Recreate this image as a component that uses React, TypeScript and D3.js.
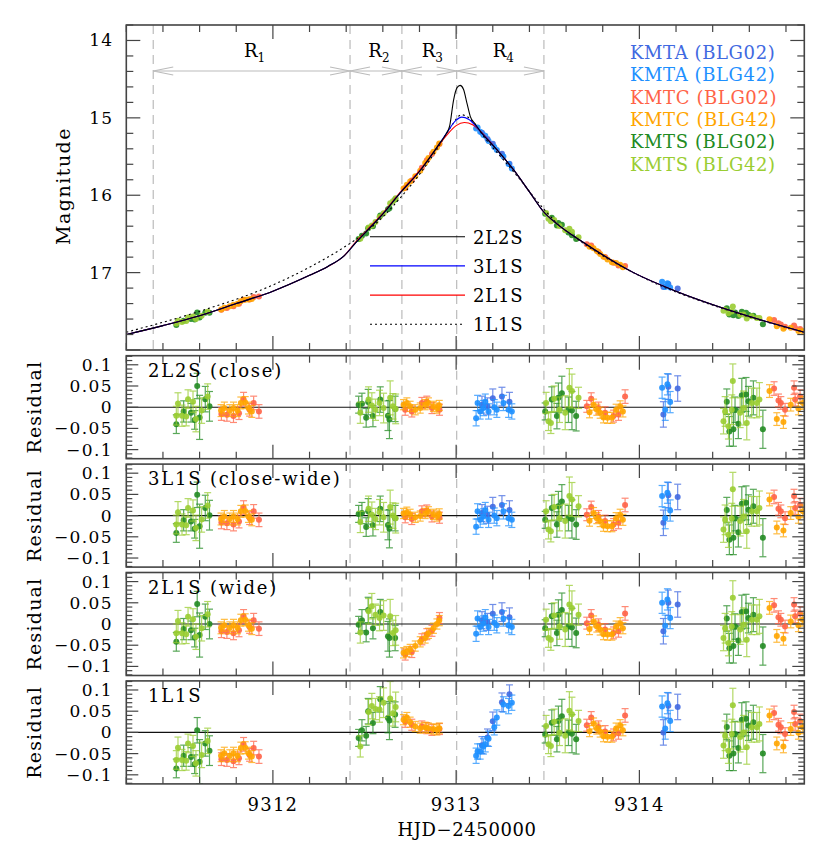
import * as d3 from "d3";

const W = 830;
const H = 858;
const LEFT = 126.3;
const RIGHT = 804.3;
const MAIN_TOP = 25;
const MAIN_BOTTOM = 350;
const RES_TOP0 = 355.7;
const RES_STEP = 108.4;
const RES_H = 103;
const FONT = "'DejaVu Serif', serif";

// region boundaries (HJD-2450000) and labels
const regionEdges = [9311.347, 9312.421, 9312.704, 9313.003, 9313.479];
const regionNames = ["1", "2", "3", "4"];

// model light curves: time, magnitude
const t3L1S = [9311.2, 9311.4, 9311.6, 9311.8, 9312.0, 9312.2, 9312.3, 9312.39, 9312.45, 9312.513, 9312.586, 9312.695, 9312.804, 9312.913, 9312.95, 9313.0, 9313.03, 9313.07, 9313.131, 9313.222, 9313.313, 9313.404, 9313.476, 9313.55, 9313.695, 9313.968, 9314.2, 9314.51, 9314.9];
const m3L1S = [17.8, 17.685, 17.557, 17.4, 17.24, 17.035, 16.92, 16.78, 16.62, 16.46, 16.28, 15.97, 15.68, 15.32, 15.19, 15.03, 14.99, 15.02, 15.17, 15.41, 15.67, 15.97, 16.21, 16.37, 16.61, 17.0, 17.24, 17.5, 17.77];

const t2L2S = [9311.2, 9311.4, 9311.6, 9311.8, 9312.0, 9312.2, 9312.3, 9312.39, 9312.45, 9312.513, 9312.586, 9312.695, 9312.804, 9312.913, 9312.945, 9312.965, 9312.986, 9313.005, 9313.022, 9313.04, 9313.06, 9313.077, 9313.104, 9313.131, 9313.222, 9313.313, 9313.404, 9313.476, 9313.55, 9313.695, 9313.968, 9314.2, 9314.51, 9314.9];
const m2L2S = [17.8, 17.685, 17.557, 17.4, 17.24, 17.035, 16.92, 16.78, 16.62, 16.46, 16.28, 15.97, 15.68, 15.32, 15.21, 15.1, 14.77, 14.61, 14.58, 14.63, 14.82, 14.98, 15.08, 15.17, 15.41, 15.67, 15.97, 16.21, 16.37, 16.61, 17.0, 17.24, 17.5, 17.77];

const t2L1S = [9311.2, 9311.4, 9311.6, 9311.8, 9312.0, 9312.2, 9312.3, 9312.39, 9312.45, 9312.513, 9312.586, 9312.695, 9312.804, 9312.913, 9312.95, 9313.0, 9313.045, 9313.09, 9313.131, 9313.222, 9313.313, 9313.404, 9313.476, 9313.55, 9313.695, 9313.968, 9314.2, 9314.51, 9314.9];
const m2L1S = [17.8, 17.685, 17.557, 17.4, 17.24, 17.035, 16.92, 16.78, 16.61, 16.45, 16.27, 15.96, 15.67, 15.33, 15.22, 15.1, 15.06, 15.09, 15.17, 15.41, 15.67, 15.97, 16.21, 16.37, 16.61, 17.0, 17.24, 17.5, 17.77];

const t1L1S = [9311.2, 9311.6, 9312.0, 9312.2, 9312.39, 9312.5, 9312.6, 9312.7, 9312.8, 9312.9, 9312.97, 9313.03, 9313.08, 9313.15, 9313.25, 9313.35, 9313.45, 9313.55, 9313.7, 9314.0, 9314.5, 9314.9];
const m1L1S = [17.77, 17.5, 17.16, 16.93, 16.67, 16.49, 16.28, 16.02, 15.73, 15.39, 15.12, 14.96, 15.02, 15.24, 15.52, 15.8, 16.1, 16.36, 16.63, 17.04, 17.5, 17.77];

// data rows: [t, mag, res 2L2S, res 3L1S, res 2L1S, res 1L1S, error]
type Row = number[];

const kmtaBLG02: Row[] = [
  [9313.141, 15.194, 0.006, 0.006, 0.009, -0.03, 0.02],
  [9313.171, 15.273, 0.002, 0.002, 0.005, -0.012, 0.02],
  [9313.2, 15.334, 0.021, 0.021, 0.024, 0.026, 0.022],
  [9313.25, 15.465, 0.025, 0.025, 0.028, 0.071, 0.022],
  [9313.291, 15.592, 0.013, 0.013, 0.016, 0.09, 0.022],
  [9314.131, 17.187, -0.017, -0.017, -0.017, 0.0, 0.03],
  [9314.158, 17.147, 0.048, 0.048, 0.05, 0.063, 0.03],
  [9314.209, 17.206, 0.044, 0.044, 0.046, 0.06, 0.03],
];

const kmtaBLG42: Row[] = [
  [9313.109, 15.136, -0.026, -0.026, -0.023, -0.055, 0.018],
  [9313.117, 15.125, 0.01, 0.01, 0.013, -0.045, 0.018],
  [9313.131, 15.18, -0.01, -0.01, -0.007, -0.045, 0.018],
  [9313.149, 15.222, -0.002, -0.002, 0.001, -0.033, 0.018],
  [9313.159, 15.232, 0.013, 0.013, 0.016, -0.028, 0.018],
  [9313.177, 15.3, -0.01, -0.01, -0.007, -0.015, 0.018],
  [9313.208, 15.375, 0.0, 0.0, 0.003, 0.012, 0.018],
  [9313.222, 15.416, -0.006, -0.006, -0.003, 0.035, 0.018],
  [9313.258, 15.5, 0.01, 0.01, 0.013, 0.066, 0.018],
  [9313.286, 15.596, -0.006, -0.006, -0.003, 0.062, 0.018],
  [9313.304, 15.655, -0.01, -0.01, -0.007, 0.07, 0.018],
  [9314.124, 17.119, 0.046, 0.046, 0.05, 0.061, 0.025],
  [9314.141, 17.186, -0.006, -0.006, -0.004, 0.009, 0.025],
  [9314.153, 17.136, 0.054, 0.054, 0.058, 0.069, 0.025],
  [9314.168, 17.193, 0.012, 0.012, 0.014, 0.027, 0.025],
];

const kmtcBLG02: Row[] = [
  [9311.719, 17.481, -0.016, -0.016, -0.017, -0.063, 0.015],
  [9311.749, 17.458, -0.018, -0.018, -0.019, -0.065, 0.015],
  [9311.785, 17.433, -0.021, -0.021, -0.022, -0.068, 0.015],
  [9311.815, 17.402, -0.014, -0.014, -0.015, -0.061, 0.015],
  [9311.84, 17.349, 0.019, 0.019, 0.018, -0.028, 0.016],
  [9311.873, 17.348, -0.006, -0.006, -0.007, -0.053, 0.015],
  [9311.895, 17.315, 0.01, 0.01, 0.009, -0.037, 0.016],
  [9311.924, 17.31, -0.01, -0.01, -0.011, -0.057, 0.016],
  [9312.722, 15.906, -0.006, -0.004, -0.072, 0.025, 0.013],
  [9312.758, 15.81, -0.01, -0.008, -0.066, 0.018, 0.013],
  [9312.813, 15.645, 0.01, 0.01, -0.036, 0.014, 0.013],
  [9312.84, 15.547, 0.013, 0.012, -0.024, 0.01, 0.013],
  [9312.868, 15.467, -0.002, -0.002, -0.016, 0.006, 0.013],
  [9312.909, 15.339, -0.006, -0.005, 0.014, 0.008, 0.013],
  [9313.713, 16.633, 0.002, 0.002, 0.002, 0.017, 0.014],
  [9313.737, 16.65, 0.02, 0.02, 0.02, 0.035, 0.014],
  [9313.777, 16.732, -0.002, -0.002, -0.002, 0.013, 0.014],
  [9313.813, 16.798, -0.013, -0.013, -0.013, 0.002, 0.014],
  [9313.859, 16.871, -0.021, -0.021, -0.021, -0.006, 0.014],
  [9313.886, 16.907, -0.017, -0.017, -0.017, -0.002, 0.014],
  [9313.922, 16.915, 0.025, 0.025, 0.025, 0.04, 0.016],
  [9314.735, 17.611, 0.044, 0.044, 0.044, 0.046, 0.016],
  [9314.759, 17.654, 0.016, 0.016, 0.016, 0.018, 0.015],
  [9314.772, 17.67, 0.01, 0.01, 0.01, 0.012, 0.015],
  [9314.795, 17.701, -0.006, -0.006, -0.006, -0.004, 0.015],
  [9314.844, 17.684, 0.046, 0.046, 0.046, 0.048, 0.016],
  [9314.85, 17.717, 0.018, 0.018, 0.018, 0.02, 0.015],
  [9314.877, 17.73, 0.025, 0.025, 0.025, 0.027, 0.016],
];

const kmtcBLG42: Row[] = [
  [9311.717, 17.475, -0.008, -0.008, -0.009, -0.055, 0.014],
  [9311.735, 17.454, -0.002, -0.002, -0.003, -0.049, 0.014],
  [9311.765, 17.436, -0.008, -0.008, -0.009, -0.055, 0.014],
  [9311.785, 17.414, -0.002, -0.002, -0.003, -0.049, 0.014],
  [9311.807, 17.402, -0.008, -0.008, -0.009, -0.055, 0.014],
  [9311.825, 17.37, 0.01, 0.01, 0.009, -0.037, 0.014],
  [9311.849, 17.349, 0.011, 0.011, 0.01, -0.036, 0.014],
  [9311.867, 17.347, -0.002, -0.002, -0.003, -0.049, 0.014],
  [9311.885, 17.34, -0.01, -0.01, -0.011, -0.057, 0.014],
  [9312.713, 15.914, 0.006, 0.005, -0.068, 0.03, 0.012],
  [9312.731, 15.865, 0.01, 0.008, -0.065, 0.035, 0.012],
  [9312.749, 15.823, 0.002, 0.003, -0.06, 0.024, 0.012],
  [9312.777, 15.756, -0.006, -0.004, -0.052, 0.014, 0.012],
  [9312.804, 15.682, -0.002, -0.001, -0.042, 0.01, 0.012],
  [9312.831, 15.584, 0.006, 0.005, -0.033, 0.012, 0.012],
  [9312.849, 15.52, 0.01, 0.009, -0.022, 0.01, 0.012],
  [9312.876, 15.438, 0.002, 0.003, -0.01, 0.008, 0.012],
  [9312.895, 15.382, -0.002, -0.001, 0.0, 0.006, 0.012],
  [9312.908, 15.331, 0.004, 0.004, 0.008, 0.01, 0.012],
  [9313.728, 16.667, -0.012, -0.012, -0.012, 0.003, 0.013],
  [9313.75, 16.684, 0.006, 0.006, 0.006, 0.021, 0.013],
  [9313.768, 16.721, -0.006, -0.006, -0.006, 0.009, 0.013],
  [9313.786, 16.758, -0.013, -0.013, -0.013, 0.002, 0.013],
  [9313.804, 16.794, -0.024, -0.024, -0.024, -0.009, 0.013],
  [9313.826, 16.83, -0.025, -0.025, -0.025, -0.01, 0.013],
  [9313.85, 16.865, -0.025, -0.025, -0.025, -0.01, 0.013],
  [9313.873, 16.876, -0.006, -0.006, -0.006, 0.009, 0.013],
  [9313.895, 16.898, 0.002, 0.002, 0.002, 0.017, 0.013],
  [9313.91, 16.93, -0.01, -0.01, -0.01, 0.005, 0.013],
  [9314.71, 17.602, 0.038, 0.038, 0.038, 0.04, 0.015],
  [9314.75, 17.693, -0.028, -0.028, -0.028, -0.026, 0.015],
  [9314.786, 17.725, -0.035, -0.035, -0.035, -0.033, 0.015],
  [9314.826, 17.714, 0.006, 0.006, 0.006, 0.008, 0.015],
  [9314.868, 17.753, -0.003, -0.003, -0.003, -0.001, 0.015],
  [9314.892, 17.755, 0.01, 0.01, 0.01, 0.012, 0.015],
];

const kmtsBLG02: Row[] = [
  [9311.473, 17.678, -0.04, -0.041, -0.042, -0.085, 0.022],
  [9311.513, 17.623, -0.01, -0.011, -0.012, -0.055, 0.025],
  [9311.553, 17.6, -0.013, -0.014, -0.015, -0.058, 0.022],
  [9311.573, 17.605, -0.03, -0.031, -0.032, -0.075, 0.022],
  [9311.587, 17.516, 0.05, 0.049, 0.047, 0.005, 0.03],
  [9311.6, 17.581, -0.024, -0.025, -0.026, -0.069, 0.052],
  [9311.631, 17.518, 0.019, 0.018, 0.017, -0.026, 0.03],
  [9311.654, 17.52, 0.002, 0.001, 0.0, -0.043, 0.035],
  [9312.468, 16.564, 0.006, 0.004, -0.002, -0.013, 0.02],
  [9312.486, 16.522, 0.008, 0.006, 0.009, 0.005, 0.025],
  [9312.509, 16.495, -0.025, -0.027, -0.02, -0.008, 0.022],
  [9312.52, 16.428, 0.012, 0.01, 0.033, 0.05, 0.03],
  [9312.546, 16.401, -0.021, -0.023, -0.01, 0.022, 0.025],
  [9312.586, 16.262, 0.018, 0.016, 0.028, 0.078, 0.03],
  [9312.628, 16.18, -0.02, -0.022, -0.029, 0.034, 0.035],
  [9312.636, 16.169, -0.029, -0.031, -0.033, 0.028, 0.045],
  [9312.667, 16.054, -0.004, -0.006, -0.033, 0.042, 0.03],
  [9313.486, 16.24, -0.01, -0.01, -0.01, -0.005, 0.02],
  [9313.522, 16.292, 0.018, 0.018, 0.018, 0.023, 0.03],
  [9313.55, 16.391, -0.021, -0.021, -0.021, -0.016, 0.03],
  [9313.558, 16.358, 0.022, 0.022, 0.022, 0.027, 0.035],
  [9313.577, 16.382, 0.033, 0.033, 0.033, 0.038, 0.04],
  [9313.613, 16.481, -0.006, -0.006, -0.006, -0.001, 0.03],
  [9313.632, 16.518, -0.008, -0.008, -0.008, -0.003, 0.045],
  [9313.655, 16.566, -0.021, -0.021, -0.021, -0.016, 0.035],
  [9314.477, 17.462, 0.013, 0.013, 0.013, 0.013, 0.03],
  [9314.491, 17.542, -0.057, -0.057, -0.057, -0.055, 0.035],
  [9314.513, 17.552, -0.052, -0.052, -0.052, -0.05, 0.04],
  [9314.522, 17.516, -0.006, -0.006, -0.006, -0.004, 0.03],
  [9314.54, 17.559, -0.039, -0.039, -0.039, -0.037, 0.035],
  [9314.559, 17.507, 0.028, 0.028, 0.028, 0.03, 0.04],
  [9314.582, 17.52, 0.03, 0.03, 0.03, 0.032, 0.04],
  [9314.595, 17.546, 0.014, 0.014, 0.014, 0.016, 0.035],
  [9314.622, 17.558, 0.022, 0.022, 0.022, 0.024, 0.04],
  [9314.674, 17.667, -0.052, -0.052, -0.052, -0.05, 0.045],
];

const kmtsBLG42: Row[] = [
  [9311.473, 17.658, -0.02, -0.021, -0.022, -0.065, 0.022],
  [9311.482, 17.623, 0.009, 0.008, 0.007, -0.036, 0.025],
  [9311.504, 17.638, -0.02, -0.021, -0.022, -0.065, 0.025],
  [9311.527, 17.626, -0.022, -0.023, -0.024, -0.067, 0.022],
  [9311.537, 17.579, 0.019, 0.018, 0.017, -0.026, 0.022],
  [9311.564, 17.567, 0.013, 0.012, 0.011, -0.032, 0.025],
  [9311.58, 17.598, -0.028, -0.029, -0.03, -0.073, 0.03],
  [9311.611, 17.558, -0.008, -0.009, -0.01, -0.053, 0.03],
  [9311.644, 17.505, 0.025, 0.024, 0.023, -0.02, 0.03],
  [9312.477, 16.563, -0.013, -0.015, -0.02, -0.033, 0.025],
  [9312.522, 16.417, 0.018, 0.016, 0.03, 0.048, 0.03],
  [9312.54, 16.391, 0.004, 0.002, 0.042, 0.062, 0.03],
  [9312.56, 16.346, -0.006, -0.008, 0.022, 0.055, 0.025],
  [9312.582, 16.28, 0.01, 0.008, 0.014, 0.054, 0.03],
  [9312.604, 16.232, -0.002, -0.004, 0.02, 0.07, 0.035],
  [9312.64, 16.103, 0.022, 0.02, 0.018, 0.08, 0.04],
  [9312.655, 16.078, 0.002, 0.0, -0.021, 0.045, 0.03],
  [9312.67, 16.039, -0.004, -0.006, -0.015, 0.06, 0.035],
  [9313.491, 16.23, 0.01, 0.01, 0.01, 0.015, 0.025],
  [9313.504, 16.303, -0.033, -0.033, -0.033, -0.028, 0.022],
  [9313.517, 16.337, -0.037, -0.037, -0.037, -0.032, 0.025],
  [9313.535, 16.32, 0.02, 0.02, 0.02, 0.025, 0.03],
  [9313.564, 16.396, -0.006, -0.006, -0.006, -0.001, 0.03],
  [9313.595, 16.453, -0.013, -0.013, -0.013, -0.008, 0.04],
  [9313.618, 16.434, 0.046, 0.046, 0.046, 0.051, 0.045],
  [9313.632, 16.472, 0.038, 0.038, 0.038, 0.043, 0.04],
  [9313.668, 16.543, 0.022, 0.022, 0.022, 0.027, 0.025],
  [9314.459, 17.493, -0.033, -0.033, -0.033, -0.031, 0.03],
  [9314.468, 17.48, -0.01, -0.01, -0.01, -0.008, 0.035],
  [9314.486, 17.525, -0.045, -0.045, -0.045, -0.043, 0.03],
  [9314.504, 17.501, -0.006, -0.006, -0.006, -0.004, 0.035],
  [9314.51, 17.438, 0.062, 0.062, 0.062, 0.064, 0.04],
  [9314.55, 17.543, -0.013, -0.013, -0.013, -0.011, 0.035],
  [9314.568, 17.542, -0.002, -0.002, -0.002, 0.0, 0.04],
  [9314.586, 17.592, -0.037, -0.037, -0.037, -0.035, 0.04],
  [9314.613, 17.565, 0.01, 0.01, 0.01, 0.012, 0.035],
  [9314.641, 17.585, 0.01, 0.01, 0.01, 0.012, 0.035],
  [9314.655, 17.587, 0.018, 0.018, 0.018, 0.02, 0.04],
];

const datasets = [
  { name: "KMTA (BLG02)", color: "#4169e1", rows: kmtaBLG02 },
  { name: "KMTA (BLG42)", color: "#1e90ff", rows: kmtaBLG42 },
  { name: "KMTC (BLG02)", color: "#ff6347", rows: kmtcBLG02 },
  { name: "KMTC (BLG42)", color: "#ffa500", rows: kmtcBLG42 },
  { name: "KMTS (BLG02)", color: "#228b22", rows: kmtsBLG02 },
  { name: "KMTS (BLG42)", color: "#9acd32", rows: kmtsBLG42 },
];

const models = [
  { name: "2L2S", t: t2L2S, m: m2L2S, color: "#000", dash: null },
  { name: "3L1S", t: t3L1S, m: m3L1S, color: "#0000ff", dash: null },
  { name: "2L1S", t: t2L1S, m: m2L1S, color: "#ff0000", dash: null },
  { name: "1L1S", t: t1L1S, m: m1L1S, color: "#000", dash: "2,3" },
];

const residualLabels = ["2L2S (close)", "3L1S (close-wide)", "2L1S (wide)", "1L1S"];
const magTicks = [14, 15, 16, 17];
const resTicks = [0.1, 0.05, 0, -0.05, -0.1];
const resTickLabels = ["0.1", "0.05", "0", "\u22120.05", "\u22120.1"];
const dayTicks = [9312, 9313, 9314];

const FRAME = "#444";
const isMult = (v: number, s: number) => Math.abs(v / s - Math.round(v / s)) < 1e-6;

const x = d3.scaleLinear().domain([9311.2, 9314.9]).range([LEFT, RIGHT]);
const yMain = d3.scaleLinear().domain([13.8, 18.0]).range([MAIN_TOP, MAIN_BOTTOM]);

function XTickMarks({ top, bottom }: { top: number; bottom: number }) {
  return (
    <g stroke={FRAME} strokeWidth={1.2}>
      {x.ticks(20).map((v, i) => {
        const len = isMult(v, 1) ? 14 : 7;
        return (
          <g key={i}>
            <line x1={x(v)} x2={x(v)} y1={top} y2={top + len} />
            <line x1={x(v)} x2={x(v)} y1={bottom} y2={bottom - len} />
          </g>
        );
      })}
    </g>
  );
}

function ResidualPanel({ idx }: { idx: number }) {
  const top = RES_TOP0 + idx * RES_STEP;
  const bottom = top + RES_H;
  const y = d3.scaleLinear().domain([-0.1214, 0.1214]).range([bottom, top]);
  const col = 2 + idx;
  const clipId = `clipRes${idx}`;
  return (
    <g>
      <clipPath id={clipId}>
        <rect x={LEFT} y={top} width={RIGHT - LEFT} height={RES_H} />
      </clipPath>
      {regionEdges.slice(1).map((e, i) => (
        <line key={i} x1={x(e)} x2={x(e)} y1={top} y2={bottom} stroke="#bbb" strokeWidth={1.2} strokeDasharray="9,6" />
      ))}
      <line x1={LEFT} x2={RIGHT} y1={y(0)} y2={y(0)} stroke="#111" strokeWidth={1.1} />
      <g clipPath={`url(#${clipId})`}>
        {datasets.map((ds) => (
          <g key={ds.name}>
            {ds.rows.map((r, j) => {
              const cx = x(r[0]);
              const v = r[col];
              const e = r[6];
              return (
                <g key={j}>
                  <g stroke={ds.color} strokeWidth={1.2} opacity={0.75}>
                    <line x1={cx} x2={cx} y1={y(v - e)} y2={y(v + e)} />
                    <line x1={cx - 3.5} x2={cx + 3.5} y1={y(v - e)} y2={y(v - e)} />
                    <line x1={cx - 3.5} x2={cx + 3.5} y1={y(v + e)} y2={y(v + e)} />
                  </g>
                  <circle cx={cx} cy={y(v)} r={3} fill={ds.color} opacity={0.9} />
                </g>
              );
            })}
          </g>
        ))}
      </g>
      <XTickMarks top={top} bottom={bottom} />
      <g stroke={FRAME} strokeWidth={1.2}>
        {y.ticks(24).map((v, i) => {
          const len = isMult(v, 0.05) ? 12 : 6;
          return (
            <g key={i}>
              <line x1={LEFT} x2={LEFT + len} y1={y(v)} y2={y(v)} />
              <line x1={RIGHT} x2={RIGHT - len} y1={y(v)} y2={y(v)} />
            </g>
          );
        })}
      </g>
      <rect x={LEFT} y={top} width={RIGHT - LEFT} height={RES_H} fill="none" stroke={FRAME} strokeWidth={1.6} />
      {resTicks.map((v, i) => (
        <text key={i} x={113} y={y(v) + 6} textAnchor="end" fontSize={17} letterSpacing={1.4}>
          {resTickLabels[i]}
        </text>
      ))}
      <text x={148} y={top + 21} fontSize={18} letterSpacing={1.8}>
        {residualLabels[idx]}
      </text>
      <text transform={`translate(41,${(top + bottom) / 2}) rotate(-90)`} textAnchor="middle" fontSize={19} letterSpacing={1.2}>
        Residual
      </text>
    </g>
  );
}

export default function App() {
  const line = d3
    .line<[number, number]>()
    .x((d) => x(d[0]))
    .y((d) => yMain(d[1]))
    .curve(d3.curveMonotoneX);

  const arrowY = 71;

  return (
    <svg width={W} height={H} style={{ position: "absolute", left: 0, top: 0, background: "#fff" }} fontFamily={FONT}>
      <clipPath id="clipMain">
        <rect x={LEFT} y={MAIN_TOP} width={RIGHT - LEFT} height={MAIN_BOTTOM - MAIN_TOP} />
      </clipPath>

      {/* region markers */}
      {regionEdges.map((e, i) => (
        <line key={i} x1={x(e)} x2={x(e)} y1={MAIN_TOP} y2={MAIN_BOTTOM} stroke="#bbb" strokeWidth={1.2} strokeDasharray="9,6" />
      ))}
      <g stroke="#bbb" strokeWidth={1.2} fill="none">
        <line x1={x(regionEdges[0])} x2={x(regionEdges[4])} y1={arrowY} y2={arrowY} />
        {regionNames.map((n, i) => {
          const a = x(regionEdges[i]);
          const b = x(regionEdges[i + 1]);
          return (
            <g key={n}>
              <path d={`M${a + 20},${arrowY - 4}L${a},${arrowY}L${a + 20},${arrowY + 4}`} />
              <path d={`M${b - 20},${arrowY - 4}L${b},${arrowY}L${b - 20},${arrowY + 4}`} />
            </g>
          );
        })}
      </g>
      {regionNames.map((n, i) => {
        const c = (x(regionEdges[i]) + x(regionEdges[i + 1])) / 2;
        return (
          <text key={n} x={c + 3} y={57} textAnchor="middle" fontSize={18}>
            R<tspan fontSize={12} dy={5}>{n}</tspan>
          </text>
        );
      })}

      {/* data in main panel */}
      <g clipPath="url(#clipMain)">
        {datasets.map((ds) => (
          <g key={ds.name} fill={ds.color} opacity={0.9}>
            {ds.rows.map((r, j) => (
              <circle key={j} cx={x(r[0])} cy={yMain(r[1])} r={3} />
            ))}
          </g>
        ))}
        {[...models].reverse().map((m) => (
          <path
            key={m.name}
            d={line(d3.zip(m.t, m.m) as [number, number][]) || ""}
            fill="none"
            stroke={m.color}
            strokeWidth={1.1}
            strokeDasharray={m.dash || undefined}
          />
        ))}
      </g>

      {/* model legend */}
      {models.map((m, i) => {
        const ly = 236.7 + i * 29.2;
        return (
          <g key={m.name}>
            <line x1={370} x2={465} y1={ly} y2={ly} stroke={m.color} strokeWidth={1.1} strokeDasharray={m.dash || undefined} />
            <text x={473} y={ly + 7} fontSize={18} letterSpacing={0.8}>
              {m.name}
            </text>
          </g>
        );
      })}

      {/* dataset legend */}
      {datasets.map((ds, i) => (
        <text key={ds.name} x={630} y={52 + i * 22.3 + 7} fontSize={18} fill={ds.color} letterSpacing={0.6}>
          {ds.name}
        </text>
      ))}

      {/* main axes */}
      <XTickMarks top={MAIN_TOP} bottom={MAIN_BOTTOM} />
      <g stroke={FRAME} strokeWidth={1.2}>
        {yMain.ticks(21).map((v, i) => {
          const len = isMult(v, 1) ? 14 : 7;
          return (
            <g key={i}>
              <line x1={LEFT} x2={LEFT + len} y1={yMain(v)} y2={yMain(v)} />
              <line x1={RIGHT} x2={RIGHT - len} y1={yMain(v)} y2={yMain(v)} />
            </g>
          );
        })}
      </g>
      <rect x={LEFT} y={MAIN_TOP} width={RIGHT - LEFT} height={MAIN_BOTTOM - MAIN_TOP} fill="none" stroke={FRAME} strokeWidth={1.6} />
      {magTicks.map((v) => (
        <text key={v} x={113} y={yMain(v) + 6} textAnchor="end" fontSize={17} letterSpacing={1}>
          {v}
        </text>
      ))}
      <text transform={`translate(70,186) rotate(-90)`} textAnchor="middle" fontSize={19} letterSpacing={1.5}>
        Magnitude
      </text>

      {residualLabels.map((_, i) => (
        <ResidualPanel key={i} idx={i} />
      ))}

      {/* bottom axis labels */}
      {dayTicks.map((v) => (
        <text key={v} x={x(v)} y={811} textAnchor="middle" fontSize={18} letterSpacing={1.2}>
          {v}
        </text>
      ))}
      <text x={467} y={836} textAnchor="middle" fontSize={18} letterSpacing={0.6}>
        HJD{"\u2212"}2450000
      </text>
    </svg>
  );
}
